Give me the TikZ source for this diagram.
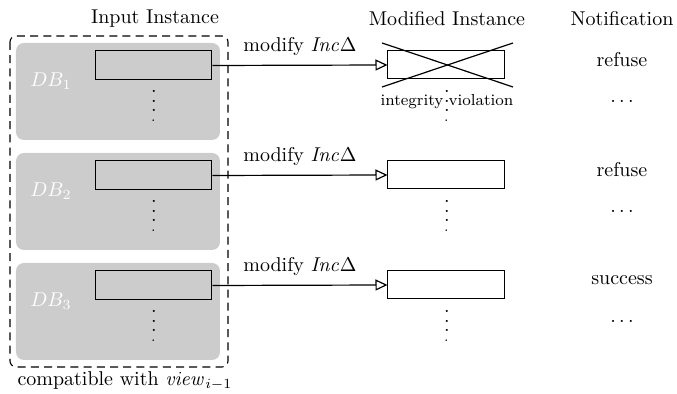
\documentclass[tikz,border=0pt]{standalone}
\usetikzlibrary{arrows.meta}
\newcommand\stackdots{\vbox{\baselineskip=4.7pt\lineskiplimit=0pt\hbox{.}\hbox{.}\hbox{.}\hbox{\scriptsize .}}}
\definecolor{dbgray}{RGB}{204,204,204}
\tikzset{
  dbbox/.style={fill=dbgray, draw=none, rounded corners=4pt},
  relbox/.style={draw, line width=0.5pt},
  flow/.style={semithick, -{Triangle[open, length=6pt, width=5.5pt]}},
  head/.style={anchor=base},
  dbname/.style={text=white},
  dots/.style={inner sep=0pt},
}
\begin{document}
\begin{tikzpicture}[x=0.5pt,y=-0.5pt]
\useasboundingbox (0,0) rectangle (677,394);

% column headings
\node[head] (hin)  at (155,24) {Input Instance};
\node[head] (hmod) at (447,26) {Modified Instance};
\node[head] (hnot) at (622,26) {Notification};

% the compatible input instance
\draw[line width=0.55pt, dash pattern=on 4pt off 2.6pt, rounded corners=3pt] (10,36) rectangle (228,367);
\node (compat) at (125,381) {compatible with $\mathit{view}_{i-1}$};

% three database rows
\foreach \i/\y/\note in {1/0/refuse, 2/110/refuse, 3/220/success}{
  \fill[dbbox] (16,43+\y) rectangle (220,140+\y);
  \node[dbname] (db\i) at (51,81+\y) {$DB_{\i}$};
  \node[relbox, fill=dbgray, minimum width=58pt, minimum height=14.5pt, inner sep=0pt] (r\i) at (154,65.5+\y) {};
  \node[dots] (ld\i) at (154,106+\y) {\stackdots};
  \node[relbox, fill=white, minimum width=58.5pt, minimum height=14pt, inner sep=0pt] (m\i) at (446.5,65+\y) {};
  \node[dots] (md\i) at (447,106+\y) {\stackdots};
  \draw[flow] (r\i.east) -- node[above=1pt] (lab\i) {modify $\mathit{Inc}\Delta$} (m\i.west);
  \node (n\i) at (622,60+\y) {\note};
  \node (nd\i) at (622,101+\y) {$\ldots$};
}

% rejected modification of the first instance
\coordinate (c1) at (382,43);
\coordinate (c2) at (513,87);
\coordinate (c3) at (382,87);
\coordinate (c4) at (513,43);
\draw[semithick] (c1) -- (c2);
\draw[semithick] (c3) -- (c4);
\node[font=\footnotesize] (viol) at (447,102) {integrity\,\,violation};
\end{tikzpicture}
\end{document}
